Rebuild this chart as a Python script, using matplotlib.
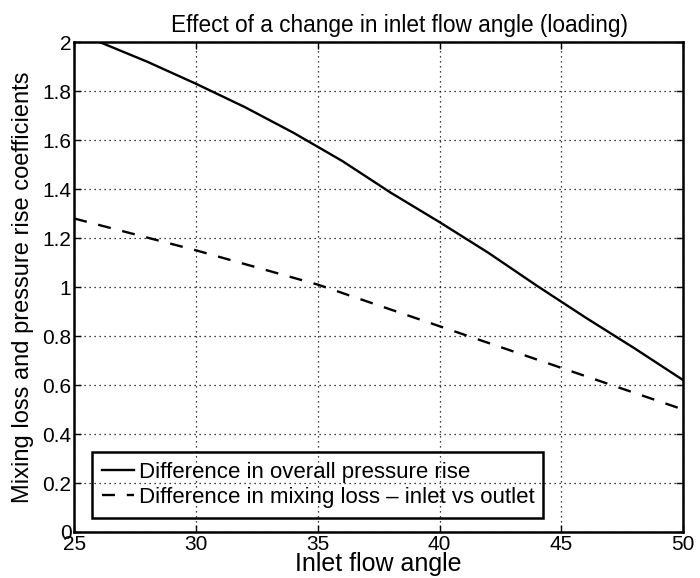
import matplotlib.pyplot as plt
from matplotlib.ticker import FixedLocator

# data
angle_solid = [26.05, 28, 30, 32, 34, 36, 38, 40, 42, 44, 46, 48, 50]
pressure_rise = [2.0, 1.92, 1.83, 1.735, 1.63, 1.515, 1.385, 1.265, 1.14, 1.005, 0.875, 0.75, 0.62]

angle_dashed = [25, 30, 35, 40, 45, 50]
mixing_loss = [1.28, 1.15, 1.01, 0.84, 0.67, 0.50]

xticks = [25, 30, 35, 40, 45, 50]
yticks = [0, 0.2, 0.4, 0.6, 0.8, 1.0, 1.2, 1.4, 1.6, 1.8, 2.0]
ytick_labels = ['0', '0.2', '0.4', '0.6', '0.8', '1', '1.2', '1.4', '1.6', '1.8', '2']

plt.rcParams['font.family'] = ['Liberation Sans', 'DejaVu Sans']

fig = plt.figure(figsize=(7, 5.78), dpi=100)
ax = fig.add_axes([0.106, 0.0796, 0.87, 0.8475])

ax.plot(angle_solid, pressure_rise, color='black', lw=1.7, linestyle='-',
        label='Difference in overall pressure rise')
ax.plot(angle_dashed, mixing_loss, color='black', lw=1.7, linestyle=(0, (5.5, 5)),
        label='Difference in mixing loss \u2013 inlet vs outlet')

ax.set_xlim(25, 50)
ax.set_ylim(0, 2)
ax.xaxis.set_major_locator(FixedLocator(xticks))
ax.set_yticks(yticks)
ax.set_yticklabels(ytick_labels)
ax.tick_params(direction='in', top=True, right=True, length=5, width=1, labelsize=15, pad=2)
ax.grid(True, color='black', linestyle=(0, (1, 3)), lw=0.9)
for s in ax.spines.values():
    s.set_linewidth(1.8)

ax.set_title('Effect of a change in inlet flow angle (loading)', fontsize=16.3, pad=7, x=0.534)
ax.set_xlabel('Inlet flow angle', fontsize=18, labelpad=-1)
ax.set_ylabel('Mixing loss and pressure rise coefficients', fontsize=17, labelpad=6)

# legend frame is see-through in the reference (grid shows inside it)
leg = ax.legend(loc='lower left', bbox_to_anchor=(0.029, 0.028, 0.74, 0.143),
                mode='expand', fontsize=16, handlelength=1.45, handletextpad=0.2,
                fancybox=False, framealpha=1, borderpad=0.45, labelspacing=0.2,
                borderaxespad=0)
leg.get_frame().set_facecolor('none')
leg.get_frame().set_edgecolor('black')
leg.get_frame().set_linewidth(1.8)

fig.savefig('out.png', dpi=100)
